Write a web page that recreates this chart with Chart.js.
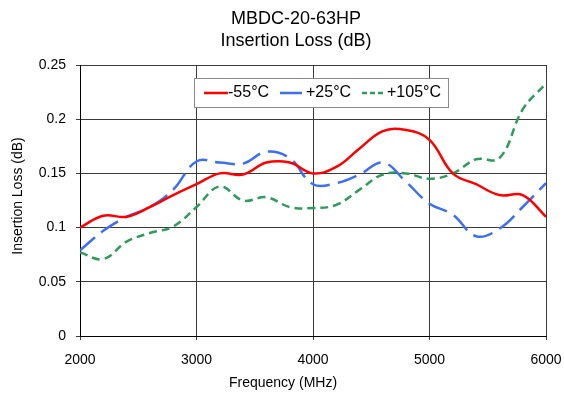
<!DOCTYPE html>
<html>
<head>
<meta charset="utf-8">
<script src="https://cdn.jsdelivr.net/npm/chart.js@4/dist/chart.umd.min.js"></script>
<style>
html,body{margin:0;padding:0;background:#fff;}
#wrap{width:564px;height:394px;position:relative;}
</style>
</head>
<body>
<div id="wrap"><canvas id="c" width="564" height="394"></canvas></div>
<script>
const titleLines = ["MBDC-20-63HP", "Insertion Loss (dB)"];
const xTitle = "Frequency (MHz)";
const yTitle = "Insertion Loss (dB)";
const seriesNames = ["-55°C", "+25°C", "+105°C"];
const freqs = [2000,2200,2400,2600,2800,3000,3200,3400,3600,3800,4000,4200,4400,4600,4800,5000,5200,5400,5600,5800,6000];
const lossM55 = [0.100,0.111,0.110,0.119,0.130,0.140,0.150,0.149,0.160,0.160,0.150,0.156,0.173,0.189,0.190,0.181,0.150,0.140,0.130,0.130,0.110];
const lossP25 = [0.079,0.097,0.110,0.119,0.135,0.161,0.160,0.159,0.170,0.164,0.140,0.141,0.149,0.160,0.142,0.122,0.112,0.092,0.099,0.119,0.141];
const lossP105 = [0.077,0.071,0.087,0.095,0.101,0.119,0.138,0.125,0.128,0.119,0.118,0.121,0.135,0.149,0.150,0.145,0.150,0.163,0.164,0.209,0.233];
const xTicks = [2000,3000,4000,5000,6000];
const yTicks = [0,0.05,0.1,0.15,0.2,0.25];

const FONT = '"Liberation Sans", Arial, sans-serif';
const colors = ['#ff0000', '#3d6ff5', '#2e9a5c'];
const dashes = [[], [20, 8], [8, 5]];

function pts(arr){ return freqs.map((f,i)=>({x:f, y:arr[i]})); }

const decor = {
  id:'decor',
  afterDraw(chart){
    const ctx = chart.ctx;
    ctx.save();
    ctx.fillStyle = '#000';
    ctx.textAlign = 'center';
    ctx.textBaseline = 'middle';
    ctx.font = '18px ' + FONT;
    ctx.fillText(titleLines[0], 296, 19);
    ctx.fillText(titleLines[1], 296, 41);
    ctx.font = '14px ' + FONT;
    ctx.fillText(xTitle, 283, 383);
    ctx.save();
    ctx.translate(18, 196);
    ctx.rotate(-Math.PI/2);
    ctx.fillText(yTitle, 0, 0);
    ctx.restore();
    // legend
    const lx = 194, ly = 78, lw = 254, lh = 29;
    ctx.fillStyle = '#fff';
    ctx.fillRect(lx, ly, lw, lh);
    ctx.strokeStyle = '#8a8a8a';
    ctx.lineWidth = 1;
    ctx.strokeRect(lx+0.5, ly+0.5, lw, lh);
    const items = [
      {x1:204, x2:228, tx:228},
      {x1:280, x2:302, tx:306},
      {x1:362, x2:386, tx:387}
    ];
    const cy = ly + lh/2 + 0.5;
    ctx.textAlign = 'left';
    ctx.font = '16px ' + FONT;
    items.forEach((it,i)=>{
      ctx.beginPath();
      ctx.strokeStyle = colors[i];
      ctx.lineWidth = 2.5;
      ctx.setLineDash(i===2 ? [5,3] : []);
      ctx.moveTo(it.x1, cy);
      ctx.lineTo(it.x2, cy);
      ctx.stroke();
      ctx.setLineDash([]);
      ctx.fillStyle = '#000';
      ctx.fillText(seriesNames[i], it.tx, cy);
    });
    ctx.restore();
  }
};

new Chart(document.getElementById('c'), {
  type:'line',
  data:{
    datasets:[lossM55, lossP25, lossP105].map((arr,i)=>({
      label: seriesNames[i],
      data: pts(arr),
      borderColor: colors[i],
      backgroundColor: colors[i],
      borderWidth: 2.5,
      borderDash: dashes[i],
      pointRadius: 0,
      tension: 0.4,
      fill: false
    }))
  },
  options:{
    responsive:false,
    animation:false,
    layout:{padding:{left:30, right:18, top:65, bottom:0}},
    plugins:{legend:{display:false}, title:{display:false}, tooltip:{enabled:false}},
    scales:{
      x:{
        type:'linear', min:2000, max:6000,
        afterBuildTicks(s){ s.ticks = xTicks.map(v=>({value:v})); },
        afterFit(s){ s.height = 58; s.paddingRight = 0; s.paddingLeft = 0; },
        grid:{color:'#3a3a3a', lineWidth:1, tickLength:4, drawTicks:true},
        border:{color:'#000', width:1},
        ticks:{color:'#000', font:{family:FONT, size:14}, padding:12, maxRotation:0,
          callback:(v)=>String(v)}
      },
      y:{
        type:'linear', min:0, max:0.25,
        afterBuildTicks(s){ s.ticks = yTicks.map(v=>({value:v})); },
        afterFit(s){ s.width = 50; s.paddingTop = 0; s.paddingBottom = 0; },
        grid:{color:'#3a3a3a', lineWidth:1, tickLength:4},
        border:{color:'#000', width:1},
        ticks:{color:'#000', font:{family:FONT, size:14}, padding:10,
          callback:(v)=>String(parseFloat(Number(v).toFixed(2)))}
      }
    }
  },
  plugins:[decor]
});
</script>
</body>
</html>
